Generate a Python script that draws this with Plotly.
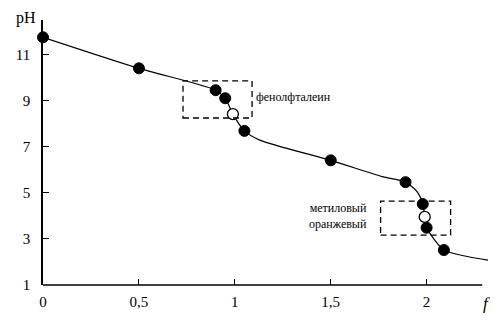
import plotly.graph_objects as go

# titration curve
curve_f = [0, 0.5, 0.9, 0.95, 0.99, 1.05, 1.13, 1.5, 1.77, 1.89, 1.95, 1.98, 1.99, 2.0, 2.09, 2.2, 2.32]
curve_ph = [11.77, 10.42, 9.47, 9.12, 8.43, 7.70, 7.30, 6.42, 5.71, 5.47, 5.06, 4.52, 3.96, 3.49, 2.52, 2.26, 2.08]

# solid measurement points
pts_f = [0, 0.5, 0.9, 0.95, 1.05, 1.5, 1.89, 1.98, 2.0, 2.09]
pts_ph = [11.77, 10.42, 9.47, 9.12, 7.70, 6.42, 5.47, 4.52, 3.49, 2.52]

# equivalence (open) points
eq_f = [0.99, 1.99]
eq_ph = [8.43, 3.96]

# indicator ranges (dashed boxes)
ind_f0 = [0.73, 1.76]
ind_f1 = [1.09, 2.125]
ind_ph0 = [8.26, 3.17]
ind_ph1 = [9.87, 4.65]

x_ticks = [0, 0.5, 1, 1.5, 2]
x_labels = ["0", "0,5", "1", "1,5", "2"]
y_ticks = [1, 3, 5, 7, 9, 11]

FONT = "Liberation Serif, Times New Roman, DejaVu Serif, serif"

fig = go.Figure()
fig.add_trace(go.Scatter(x=curve_f, y=curve_ph, mode="lines",
                         line=dict(color="black", width=1.2, shape="spline", smoothing=0.7),
                         hoverinfo="skip", showlegend=False))
fig.add_trace(go.Scatter(x=pts_f, y=pts_ph, mode="markers",
                         marker=dict(size=11, color="black", line=dict(color="black", width=1)),
                         cliponaxis=False, showlegend=False))
fig.add_trace(go.Scatter(x=eq_f, y=eq_ph, mode="markers",
                         marker=dict(size=11, color="white", line=dict(color="black", width=1.3)),
                         cliponaxis=False, showlegend=False))

for a, b, c, d in zip(ind_f0, ind_f1, ind_ph0, ind_ph1):
    fig.add_shape(type="rect", xref="x", yref="y", x0=a, x1=b, y0=c, y1=d,
                  line=dict(color="black", width=1.3, dash="6px,4px"), fillcolor="rgba(0,0,0,0)")

# x axis line (shorter than plot area)
fig.add_shape(type="line", xref="x", yref="paper", x0=0, x1=2.29, y0=0, y1=0,
              line=dict(color="black", width=1.5))

fig.add_annotation(x=1.1, y=9.19, xref="x", yref="y", text="фенолфталеин",
                   showarrow=False, xanchor="left", yanchor="middle",
                   font=dict(family=FONT, size=12, color="black"))
fig.add_annotation(x=1.70, y=4.0, xref="x", yref="y", text="метиловый<br>оранжевый",
                   showarrow=False, xanchor="right", yanchor="middle", align="right",
                   font=dict(family=FONT, size=12, color="black"))
fig.add_annotation(x=0, y=1, xref="paper", yref="paper", text="pH",
                   showarrow=False, xanchor="right", yanchor="middle", xshift=-5, yshift=2,
                   font=dict(family=FONT, size=16, color="black"))
fig.add_annotation(x=2.29, y=0, xref="x", yref="paper", text="<i>f</i>",
                   showarrow=False, xanchor="center", yanchor="middle", xshift=4, yshift=-18,
                   font=dict(family=FONT, size=17, color="black"))

fig.update_xaxes(range=[0, 2.32], tickvals=x_ticks, ticktext=x_labels,
                 ticks="inside", ticklen=6, tickwidth=1.3, tickcolor="black",
                 showline=False, showgrid=False, zeroline=False,
                 ticklabelstandoff=6,
                 tickfont=dict(family=FONT, size=15, color="black"))
fig.update_yaxes(range=[1, 12.52], tickvals=y_ticks,
                 ticks="inside", ticklen=6, tickwidth=1.3, tickcolor="black",
                 showline=True, linecolor="black", linewidth=1.5,
                 showgrid=False, zeroline=False,
                 ticklabelstandoff=8,
                 tickfont=dict(family=FONT, size=15, color="black"))

fig.update_layout(width=500, height=325, margin=dict(l=43, r=12, t=20, b=40),
                  plot_bgcolor="white", paper_bgcolor="white", showlegend=False)

fig.write_html("out.html")
